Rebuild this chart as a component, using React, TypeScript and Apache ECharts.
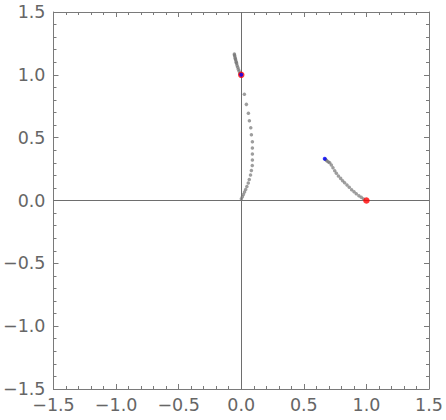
import { useEffect, useRef } from "react";
import * as echarts from "echarts";

const axisMin = -1.5;
const axisMax = 1.5;
const axisStep = 0.5;

// gray trajectory points rising from the origin
const pathFromOrigin: number[][] = [
  [0.001, 0.014], [0.009, 0.029], [0.017, 0.048], [0.026, 0.068], [0.035, 0.088],
  [0.045, 0.111], [0.056, 0.139], [0.064, 0.167], [0.074, 0.203], [0.081, 0.239],
  [0.088, 0.279], [0.089, 0.322], [0.089, 0.37], [0.089, 0.418], [0.089, 0.468],
  [0.081, 0.524], [0.076, 0.579], [0.065, 0.635], [0.057, 0.694], [0.041, 0.765],
  [0.025, 0.845],
];

// dense gray points above (0, 1)
const pathAboveTop: number[][] = [
  [-0.006, 1.005], [-0.012, 1.015], [-0.018, 1.03], [-0.023, 1.045], [-0.028, 1.06],
  [-0.033, 1.075], [-0.037, 1.09], [-0.041, 1.105], [-0.045, 1.12], [-0.049, 1.135],
  [-0.052, 1.15], [-0.055, 1.165], [-0.054, 1.158], [-0.047, 1.128], [-0.039, 1.098],
];

// gray trajectory on the right
const pathRight: number[][] = [
  [0.672, 0.328], [0.678, 0.322], [0.686, 0.314], [0.697, 0.307], [0.707, 0.301],
  [0.72, 0.282], [0.733, 0.261], [0.747, 0.237], [0.76, 0.216], [0.776, 0.195],
  [0.794, 0.176], [0.81, 0.158], [0.826, 0.142], [0.845, 0.123], [0.863, 0.105],
  [0.882, 0.086], [0.901, 0.07], [0.919, 0.054], [0.94, 0.038], [0.959, 0.025],
  [0.977, 0.012],
];

const redPoints: number[][] = [[0, 1], [1, 0]];
const bluePoints: number[][] = [[0, 1], [0.667, 0.333]];

const frameColor = "#7a7a7a";
const textColor = "#666666";

const fmt = (v: number) => (v < 0 ? "\u2212" : "") + Math.abs(v).toFixed(1);

function makeAxis(kind: "x" | "y", pos: string, labels: boolean) {
  return {
    type: "value",
    position: pos,
    min: axisMin,
    max: axisMax,
    interval: axisStep,
    axisLine: { show: true, onZero: false, lineStyle: { color: frameColor, width: 1 } },
    axisTick: { show: true, inside: true, length: 5, lineStyle: { color: frameColor } },
    minorTick: { show: true, splitNumber: 5, length: 3, lineStyle: { color: frameColor } },
    splitLine: { show: false },
    axisLabel: {
      show: labels,
      color: textColor,
      fontFamily: "DejaVu Sans",
      fontSize: 17.5,
      margin: kind === "y" ? 8 : 7,
      formatter: fmt,
    },
  };
}

export default function App() {
  const ref = useRef<HTMLDivElement>(null);
  useEffect(() => {
    document.body.style.margin = "0";
    if (!ref.current) return;
    const chart = echarts.init(ref.current, undefined, { renderer: "svg" });
    chart.setOption({
      animation: false,
      backgroundColor: "#ffffff",
      grid: { left: 52, top: 12, right: 17, bottom: 31, containLabel: false },
      xAxis: [makeAxis("x", "bottom", true), makeAxis("x", "top", false)],
      yAxis: [makeAxis("y", "left", true), makeAxis("y", "right", false)],
      series: [
        {
          type: "scatter",
          data: [...pathFromOrigin, ...pathAboveTop, ...pathRight],
          symbolSize: 3.5,
          itemStyle: { color: "rgba(120,120,120,0.9)" },
          z: 3,
          markLine: {
            silent: true,
            symbol: "none",
            label: { show: false },
            lineStyle: { color: "#6e6e6e", width: 1, type: "solid" },
            data: [{ xAxis: 0 }, { yAxis: 0 }],
            z: 1,
          },
        },
        {
          type: "scatter",
          data: redPoints,
          symbolSize: 6.5,
          itemStyle: { color: "#ff0000" },
          z: 4,
        },
        {
          type: "scatter",
          data: bluePoints,
          symbolSize: 4,
          itemStyle: { color: "#0000ff" },
          z: 5,
        },
      ],
    });
    return () => chart.dispose();
  }, []);
  return <div ref={ref} style={{ width: 446, height: 420 }} />;
}
